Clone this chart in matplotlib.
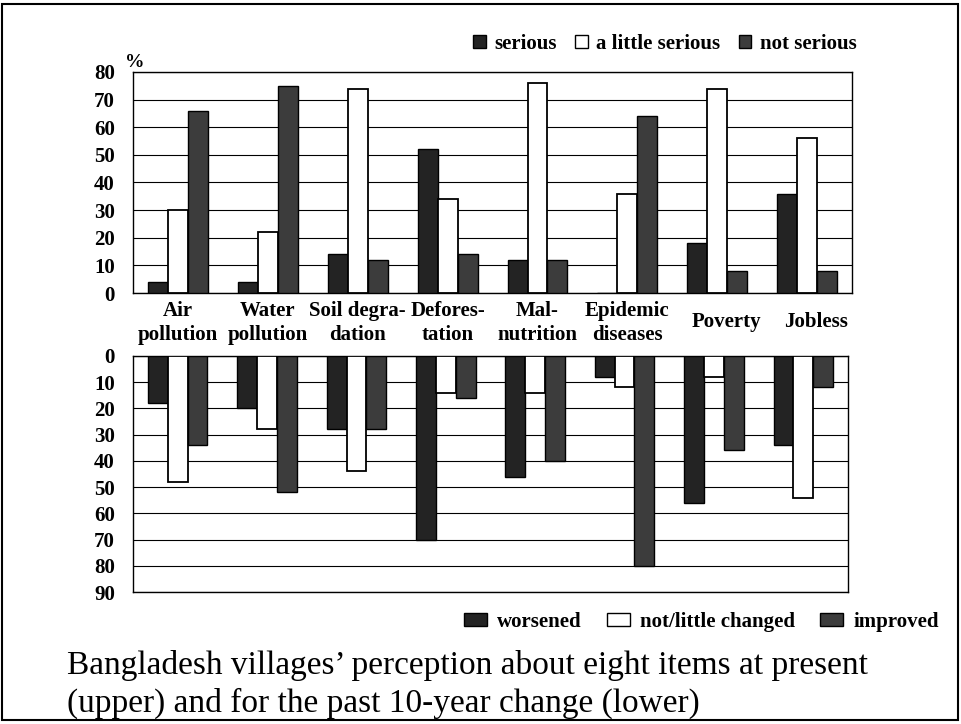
import numpy as np
import matplotlib
matplotlib.use('Agg')
import matplotlib.pyplot as plt
from matplotlib.patches import Patch, Rectangle

plt.rcParams['font.family'] = 'Liberation Serif'

# categories (two-line labels as printed under the upper panel)
items = ['Air\npollution', 'Water\npollution', 'Soil degra-\ndation', 'Defores-\ntation',
         'Mal-\nnutrition', 'Epidemic\ndiseases', 'Poverty', 'Jobless']

# upper panel: perception at present (%)
serious = [4, 4, 14, 52, 12, 0, 18, 36]
little_serious = [30, 22, 74, 34, 76, 36, 74, 56]
not_serious = [66, 75, 12, 14, 12, 64, 8, 8]

# lower panel: past 10-year change (%)
worsened = [18, 20, 28, 70, 46, 8, 56, 34]
not_changed = [48, 28, 44, 14, 14, 12, 8, 54]
improved = [34, 52, 28, 16, 40, 80, 36, 12]

upper_ticks = list(range(0, 81, 10))
lower_ticks = list(range(0, 91, 10))

dark1 = '#232323'
dark2 = '#3c3c3c'
bold = {'family': 'Liberation Serif', 'weight': 'bold'}

fig = plt.figure(figsize=(9.62, 7.24), dpi=100)

# outer frame
fig.patches.append(Rectangle((2 / 962, 4 / 724), 956 / 962, 716 / 724, transform=fig.transFigure,
                             fill=False, edgecolor='black', linewidth=1.5))

ax1 = fig.add_axes([0.1383, 0.5953, 0.7474, 0.3053])
ax2 = fig.add_axes([0.1383, 0.1823, 0.7432, 0.3260])

x = np.arange(len(items))
w = 0.222


def draw(ax, s1, s2, s3, ticks):
    ax.bar(x - w, s1, w, color=dark1, edgecolor='black', linewidth=1.0, zorder=3)
    ax.bar(x, s2, w, color='white', edgecolor='black', linewidth=1.3, zorder=3)
    ax.bar(x + w, s3, w, color=dark2, edgecolor='black', linewidth=1.0, zorder=3)
    ax.set_xlim(-0.5, len(items) - 0.5)
    ax.set_yticks(ticks)
    ax.set_yticklabels([str(t) for t in ticks], fontdict=bold, fontsize=15)
    ax.yaxis.grid(True, color='black', linewidth=0.8, zorder=0)
    ax.set_axisbelow(True)
    ax.set_xticks([])
    ax.tick_params(axis='y', length=0, pad=13)
    for sp in ax.spines.values():
        sp.set_linewidth(1.0)


draw(ax1, serious, little_serious, not_serious, upper_ticks)
ax1.set_ylim(0, 80)

draw(ax2, worsened, not_changed, improved, lower_ticks)
ax2.set_ylim(90, 0)

# category labels under the upper panel
for i, lab in enumerate(items):
    lines = lab.split('\n')
    if len(lines) == 2:
        ax1.text(i, -0.080, lines[0], transform=ax1.get_xaxis_transform(), ha='center', va='center',
                 fontdict=bold, fontsize=15)
        ax1.text(i, -0.190, lines[1], transform=ax1.get_xaxis_transform(), ha='center', va='center',
                 fontdict=bold, fontsize=15)
    else:
        ax1.text(i + 0.1, -0.130, lab, transform=ax1.get_xaxis_transform(), ha='center', va='center',
                 fontdict=bold, fontsize=15)

fig.text(0.140, 0.913, '%', fontdict=bold, fontsize=14, ha='center', va='center')

# legends
h_up = [Patch(facecolor=dark1, edgecolor='black'), Patch(facecolor='white', edgecolor='black'),
        Patch(facecolor=dark2, edgecolor='black')]
fig.legend(h_up, ['serious', 'a little serious', 'not serious'], loc='center',
           bbox_to_anchor=(0.691, 0.939), ncol=3, frameon=False,
           prop={'family': 'Liberation Serif', 'weight': 'bold', 'size': 15},
           handlelength=0.6, handleheight=0.6, handletextpad=0.4, columnspacing=0.9)

h_lo = [Patch(facecolor=dark1, edgecolor='black'), Patch(facecolor='white', edgecolor='black'),
        Patch(facecolor=dark2, edgecolor='black')]
fig.legend(h_lo, ['worsened', 'not/little changed', 'improved'], loc='center',
           bbox_to_anchor=(0.729, 0.141), ncol=3, frameon=False,
           prop={'family': 'Liberation Serif', 'weight': 'bold', 'size': 15},
           handlelength=1.1, handleheight=0.6, handletextpad=0.5, columnspacing=1.2)

# caption
fig.text(0.07, 0.081, 'Bangladesh villages\u2019 perception about eight items at present',
         fontsize=24, ha='left', va='center')
fig.text(0.07, 0.029, '(upper) and for the past 10-year change (lower)',
         fontsize=24, ha='left', va='center')

fig.savefig('out.png', dpi=100)
